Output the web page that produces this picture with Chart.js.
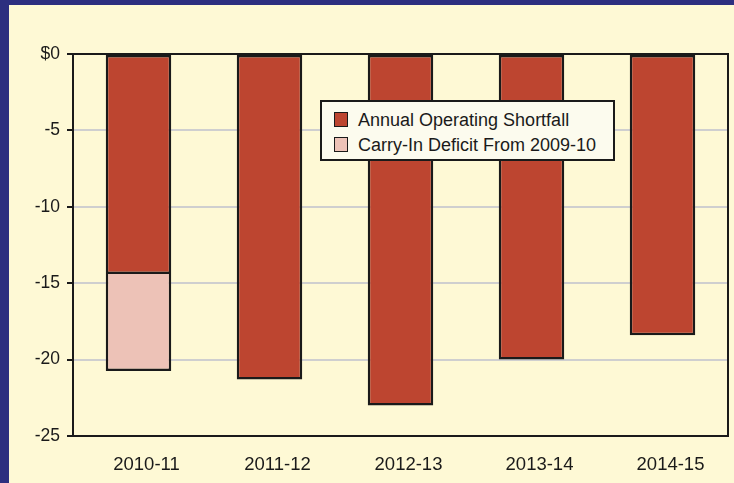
<!DOCTYPE html>
<html>
<head>
<meta charset="utf-8">
<script src="https://cdn.jsdelivr.net/npm/chart.js@4"></script>
<style>
  html, body { margin: 0; padding: 0; }
  body { width: 734px; height: 483px; background: #2d2f7f; position: relative; overflow: hidden; }
  #panel { position: absolute; left: 9px; top: 5px; width: 725px; height: 478px; background: #fef9d5; }
  #chart { position: absolute; left: 0; top: 0; }
  #legend {
    position: absolute; left: 311px; top: 95px; width: 291px; height: 57px;
    border: 2px solid #1a1a1a; background: #fcfbee;
    font-family: "Liberation Sans", Arial, sans-serif; font-size: 18px; color: #1a1a1a;
  }
  .item { position: absolute; left: 12px; height: 20px; line-height: 20px; }
  .swatch { position: absolute; left: 0; top: 2px; width: 12px; height: 13px; border: 1.5px solid #1a1a1a; }
  .label { position: absolute; left: 24px; top: 0; white-space: nowrap; }
</style>
</head>
<body>
<div id="panel">
  <canvas id="chart" width="725" height="478"></canvas>
  <div id="legend"></div>
</div>
<script>
// Data
const years = ['2010-11', '2011-12', '2012-13', '2013-14', '2014-15'];
const operatingShortfall = [-14.4, -21.3, -23.0, -20.0, -18.4];
const carryInDeficit = [-6.35, null, null, null, null];
const yTicks = [0, -5, -10, -15, -20, -25];

const seriesNames = ['Annual Operating Shortfall', 'Carry-In Deficit From 2009-10'];
const seriesColors = ['#bd4530', '#edc2b7'];

// Black frame around the plot area
const framePlugin = {
    id: 'frame',
    afterDraw(chart) {
        const a = chart.chartArea;
        const ctx = chart.ctx;
        ctx.save();
        ctx.strokeStyle = '#1a1a1a';
        ctx.lineWidth = 2;
        ctx.strokeRect(a.left, a.top, a.right - a.left, a.bottom - a.top);
        ctx.restore();
    }
};

const ctx = document.getElementById('chart').getContext('2d');
const chart = new Chart(ctx, {
    type: 'bar',
    data: {
        labels: years,
        datasets: [{
            label: seriesNames[0],
            data: operatingShortfall,
            backgroundColor: seriesColors[0],
            borderColor: '#1a1a1a',
            borderWidth: 2.5,
            borderSkipped: false
        }, {
            label: seriesNames[1],
            data: carryInDeficit,
            backgroundColor: seriesColors[1],
            borderColor: '#1a1a1a',
            borderWidth: 2.5,
            // the red bar above already draws the shared edge
            borderSkipped: 'start'
        }]
    },
    options: {
        responsive: false,
        animation: false,
        layout: { padding: { top: 49, right: 6, left: 0, bottom: 0 } },
        datasets: {
            bar: { barPercentage: 0.5, categoryPercentage: 1.0 }
        },
        plugins: {
            legend: { display: false },
            tooltip: { enabled: false }
        },
        scales: {
            x: {
                stacked: true,
                grid: { display: false },
                border: { display: false },
                ticks: {
                    color: '#1a1a1a',
                    padding: 10,
                    labelOffset: 8,
                    font: { family: 'Liberation Sans', size: 18.5 }
                },
                afterFit(scale) { scale.height = 47; }
            },
            y: {
                stacked: true,
                min: -25,
                max: 0,
                afterBuildTicks(scale) {
                    scale.ticks = yTicks.map(v => ({ value: v }));
                },
                grid: {
                    color: ctx => (ctx.tick && (ctx.tick.value === 0 || ctx.tick.value === -25)) ? 'rgba(0,0,0,0)' : '#cfcfcf',
                    lineWidth: 2,
                    tickColor: '#1a1a1a',
                    tickLength: 6,
                    tickWidth: 2
                },
                border: { display: false },
                ticks: {
                    color: '#1a1a1a',
                    padding: 7,
                    font: { family: 'Liberation Sans', size: 17.5 },
                    callback: v => v === 0 ? '$0' : String(v)
                },
                afterFit(scale) { scale.width = 64; }
            }
        }
    },
    plugins: [framePlugin]
});

// HTML legend built from the chart's datasets
const legendEl = document.getElementById('legend');
chart.data.datasets.forEach((ds, i) => {
    const item = document.createElement('div');
    item.className = 'item';
    item.style.top = (8 + i * 25) + 'px';
    const sw = document.createElement('span');
    sw.className = 'swatch';
    sw.style.background = ds.backgroundColor;
    const lb = document.createElement('span');
    lb.className = 'label';
    lb.textContent = ds.label;
    item.appendChild(sw);
    item.appendChild(lb);
    legendEl.appendChild(item);
});
</script>
</body>
</html>
